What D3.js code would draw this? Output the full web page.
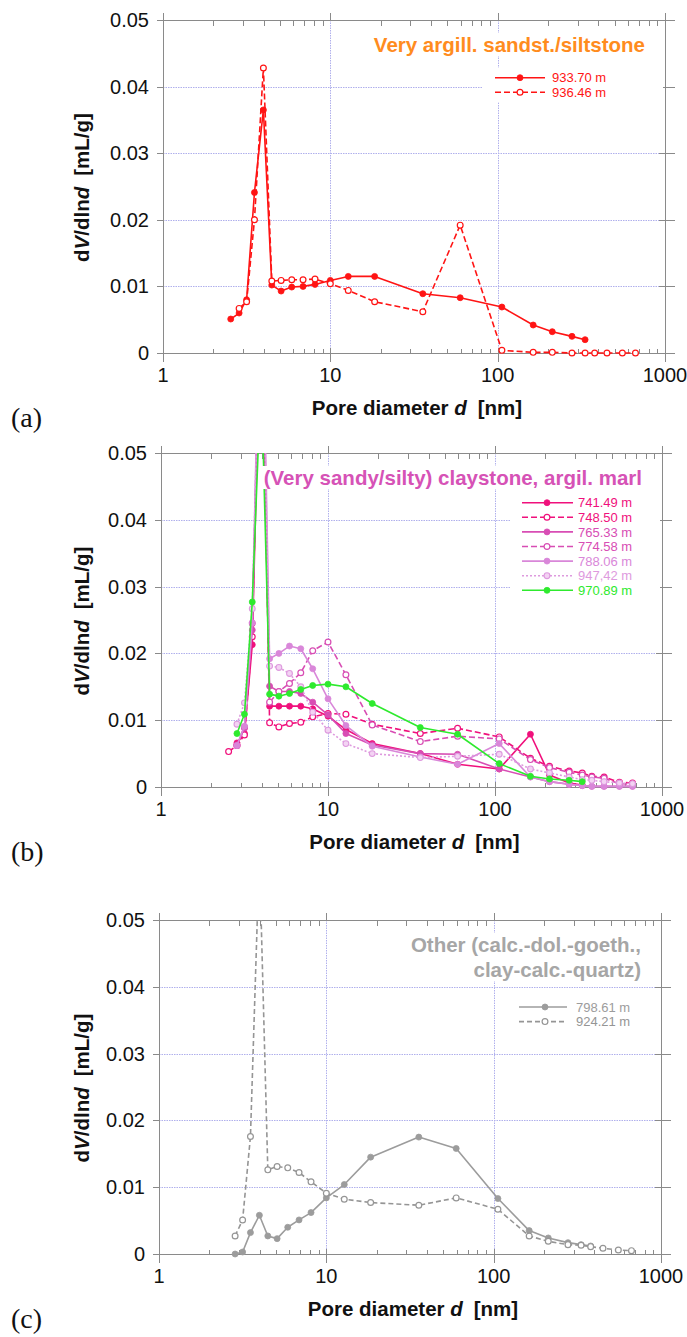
<!DOCTYPE html>
<html><head><meta charset="utf-8">
<script src="https://cdn.jsdelivr.net/npm/d3@7"></script>
<style>body{margin:0;background:#fff}svg{display:block}</style>
</head><body>
<svg id="chart" width="687" height="1337"></svg>
<script>
// ---------------- DATA ----------------
const diameters = [2.54, 2.85, 3.16, 3.52, 3.98, 4.47, 5.08, 5.88, 6.87, 8.1, 10.0, 12.8, 18.4, 35.7, 59.7, 106, 163, 212, 278, 333, 380, 450, 556, 666];
const xTickValues = [1, 10, 100, 1000];
const xTickLabels = ["1", "10", "100", "1000"];
const yTickValues = [0, 0.01, 0.02, 0.03, 0.04, 0.05];
const yTickLabels = ["0", "0.01", "0.02", "0.03", "0.04", "0.05"];

// Panel (a)
const titleA = ["Very argill. sandst./siltstone"];
const namesA = ["933.70 m", "936.46 m"];
const a_93370 = [0.0051, 0.0060, 0.0080, 0.0241, 0.0365, 0.0102, 0.0093, 0.0099, 0.0100, 0.0103, 0.0109, 0.0115, 0.0115, 0.0089, 0.0083, 0.0069, 0.0042, 0.0032, 0.0025, 0.0020, null, null, null, null];
const a_93646 = [null, 0.0067, 0.0077, 0.0200, 0.0428, 0.0108, 0.0109, 0.0110, 0.0110, 0.0111, 0.0104, 0.0094, 0.0077, 0.0062, 0.0192, 0.0004, 0.0001, 0.0001, 0.0000, 0.0000, 0.0000, 0.0000, 0.0000, 0.0000];

// Panel (b)
const titleB = ["(Very sandy/silty) claystone, argil. marl"];
const namesB = ["741.49 m", "748.50 m", "765.33 m", "774.58 m", "788.06 m", "947,42 m", "970.89 m"];
const b_74149 = [null, 0.0066, 0.0080, 0.0213, 0.075, 0.0121, 0.0121, 0.0121, 0.0121, 0.0117, 0.0106, 0.0086, 0.0065, 0.0050, 0.0034, 0.0027, 0.0079, 0.0018, 0.0006, 0.0003, null, null, null, null];
const b_74850 = [0.0053, 0.0062, 0.0078, 0.0225, 0.080, 0.0096, 0.0090, 0.0095, 0.0097, 0.0105, 0.0110, 0.0109, 0.0094, 0.0080, 0.0088, 0.0075, 0.0043, 0.0031, 0.0024, 0.0021, 0.0016, 0.0015, 0.0007, 0.0006];
const b_76533 = [null, 0.0063, 0.0088, 0.0235, 0.078, 0.0151, 0.0143, 0.0143, 0.0140, 0.0127, 0.0108, 0.0080, 0.0063, 0.0050, 0.0049, 0.0027, 0.0015, 0.0008, 0.0004, 0.0002, 0.0001, 0.0001, 0.0001, 0.0001];
const b_77458 = [null, 0.0062, 0.0090, 0.0245, 0.080, 0.0127, 0.0143, 0.0155, 0.0171, 0.0204, 0.0217, 0.0168, 0.0093, 0.0068, 0.0076, 0.0072, 0.0041, 0.0029, 0.0022, 0.0018, 0.0015, 0.0013, 0.0005, 0.0004];
const b_78806 = [null, 0.0062, 0.0091, 0.0246, 0.085, 0.0192, 0.0200, 0.0211, 0.0207, 0.0177, 0.0132, 0.0092, 0.0061, 0.0045, 0.0034, 0.0065, 0.0015, 0.0008, 0.0004, 0.0002, 0.0001, 0.0001, 0.0001, 0.0001];
const b_94742 = [null, 0.0094, 0.0126, 0.0267, 0.080, 0.0181, 0.0179, 0.0170, 0.0150, 0.0112, 0.0085, 0.0065, 0.0050, 0.0044, 0.0046, 0.0049, 0.0027, 0.0021, 0.0015, 0.0011, 0.0010, 0.0008, 0.0006, 0.0005];
const b_97089 = [null, 0.0080, 0.0109, 0.0277, 0.062, 0.0139, 0.0136, 0.0140, 0.0146, 0.0152, 0.0154, 0.0150, 0.0125, 0.0089, 0.0079, 0.0035, 0.0016, 0.0012, 0.0010, 0.0008, null, null, null, null];

// Panel (c)
const titleC = ["Other (calc.-dol.-goeth.,", "clay-calc.-quartz)"];
const namesC = ["798.61 m", "924.21 m"];
const c_79861 = [null, 0.0000, 0.0003, 0.0032, 0.0058, 0.0027, 0.0023, 0.0040, 0.0051, 0.0062, 0.0084, 0.0104, 0.0145, 0.0175, 0.0158, 0.0083, 0.0035, 0.0024, 0.0017, 0.0014, 0.0012, null, null, null];
const c_92421 = [null, 0.0027, 0.0051, 0.0176, 0.060, 0.0126, 0.0131, 0.0129, 0.0122, 0.0108, 0.0091, 0.0082, 0.0077, 0.0073, 0.0084, 0.0067, 0.0027, 0.0019, 0.0014, 0.0013, 0.0011, 0.00085, 0.0006, 0.0005];

// ---------------- STYLES / LAYOUT ----------------
const RED = "#FF1414", DP = "#F0107C", MP = "#D84DB4", LO = "#D987D9", LO2 = "#DE9ADE", GR = "#2EEA2E", G1 = "#9C9C9C", G2 = "#959595";
const LSTEP = 14.6;
const panels = [
  { label: "(a)", x0: 163, x1: 665, yTop: 20, yBot: 353, title: titleA, titleColor: "#FF8C1E",
    legend: { ls: 170, le: 120, m: 145, tx: 113, y0: 57.7 },
    series: [
      { name: namesA[0], values: a_93370, color: RED, dash: null, marker: "filled" },
      { name: namesA[1], values: a_93646, color: RED, dash: "6,3", marker: "open" } ] },
  { label: "(b)", x0: 161, x1: 662, yTop: 453, yBot: 787, title: titleB, titleColor: "#D652B6",
    legend: { ls: 140, le: 89, m: 115, tx: 84, y0: 49.7 },
    series: [
      { name: namesB[0], values: b_74149, color: DP, dash: null, marker: "filled" },
      { name: namesB[1], values: b_74850, color: DP, dash: "6,3", marker: "open" },
      { name: namesB[2], values: b_76533, color: MP, dash: null, marker: "filled" },
      { name: namesB[3], values: b_77458, color: MP, dash: "6,3", marker: "open" },
      { name: namesB[4], values: b_78806, color: LO, dash: null, marker: "filled" },
      { name: namesB[5], values: b_94742, color: LO2, dash: "2,2", marker: "dot" },
      { name: namesB[6], values: b_97089, color: GR, dash: null, marker: "filled" } ] },
  { label: "(c)", x0: 159, x1: 661, yTop: 920, yBot: 1254, title: titleC, titleColor: "#A6A6A6",
    legend: { ls: 142, le: 94, m: 116, tx: 85, y0: 87 },
    series: [
      { name: namesC[0], values: c_79861, color: G1, dash: null, marker: "filled" },
      { name: namesC[1], values: c_92421, color: G2, dash: "5,3", marker: "open" } ] }
];

const svg = d3.select("#chart");
const AX = "#8a8a8a", GRID = "#B0B0EC";
const SANS = "'Liberation Sans', Arial, sans-serif";

function drawMarker(g, type, color, cx, cy) {
  const c = g.append("circle").attr("cx", cx).attr("cy", cy);
  if (type === "filled") c.attr("r", 3).attr("fill", color).attr("stroke", color).attr("stroke-width", 0.8);
  else if (type === "open") c.attr("r", 2.9).attr("fill", "#fff").attr("stroke", color).attr("stroke-width", 1.2);
  else c.attr("r", 2.9).attr("fill", "#F3D3F3").attr("stroke", color).attr("stroke-width", 1.1);
}

panels.forEach((p, pi) => {
  const g = svg.append("g");
  const xs = d3.scaleLog().domain([1, 1000]).range([p.x0, p.x1]);
  const ys = d3.scaleLinear().domain([0, 0.05]).range([p.yBot, p.yTop]);

  // grid
  const grid = g.append("g").attr("stroke", GRID).attr("stroke-width", 1).attr("stroke-dasharray", "1.5,1");
  yTickValues.slice(1, -1).forEach(v => grid.append("line")
    .attr("x1", p.x0).attr("x2", p.x1).attr("y1", Math.round(ys(v)) + 0.5).attr("y2", Math.round(ys(v)) + 0.5));
  xTickValues.slice(1, -1).forEach(v => grid.append("line")
    .attr("y1", p.yTop).attr("y2", p.yBot).attr("x1", Math.round(xs(v)) + 0.5).attr("x2", Math.round(xs(v)) + 0.5));

  // axes frame
  const ax = g.append("g").attr("stroke", AX).attr("stroke-width", 1).attr("shape-rendering", "crispEdges");
  const X0 = Math.round(p.x0) + 0.5, X1 = Math.round(p.x1) + 0.5, YT = Math.round(p.yTop) + 0.5, YB = Math.round(p.yBot) + 0.5;
  ax.append("line").attr("x1", X0).attr("x2", X0).attr("y1", YT - 8).attr("y2", YB);
  ax.append("line").attr("x1", X1).attr("x2", X1).attr("y1", YT - 8).attr("y2", YB);
  ax.append("line").attr("x1", X0).attr("x2", X1 + 9).attr("y1", YB).attr("y2", YB);
  ax.append("line").attr("x1", X0 - 7).attr("x2", X1 + 9).attr("y1", YT).attr("y2", YT);
  // x major ticks
  xTickValues.forEach(v => {
    const x = Math.round(xs(v)) + 0.5;
    ax.append("line").attr("x1", x).attr("x2", x).attr("y1", YT - 8).attr("y2", YT);
    ax.append("line").attr("x1", x).attr("x2", x).attr("y1", YB - 6).attr("y2", YB + 8);
  });
  // x minor ticks
  [1, 10, 100].forEach(dec => d3.range(2, 10).forEach(k => {
    const x = Math.round(xs(dec * k)) + 0.5;
    ax.append("line").attr("x1", x).attr("x2", x).attr("y1", YT).attr("y2", YT + 5);
    ax.append("line").attr("x1", x).attr("x2", x).attr("y1", YB - 5).attr("y2", YB);
  }));
  // y ticks
  yTickValues.forEach(v => {
    const y = Math.round(ys(v)) + 0.5;
    ax.append("line").attr("x1", X0 - 7).attr("x2", X0).attr("y1", y).attr("y2", y);
    ax.append("line").attr("x1", X1 - 7).attr("x2", X1 + 9).attr("y1", y).attr("y2", y);
  });

  // tick labels
  yTickValues.forEach((v, i) => g.append("text").attr("x", p.x0 - 14).attr("y", ys(v) + 7)
    .attr("text-anchor", "end").attr("font-family", SANS).attr("font-size", 20).attr("fill", "#111").text(yTickLabels[i]));
  xTickValues.forEach((v, i) => g.append("text").attr("x", xs(v)).attr("y", p.yBot + 29)
    .attr("text-anchor", "middle").attr("font-family", SANS).attr("font-size", 20).attr("fill", "#111").text(xTickLabels[i]));

  // axis titles
  const xt = g.append("text").attr("x", (p.x0 + p.x1) / 2 + 3).attr("y", p.yBot + 62).attr("text-anchor", "middle")
    .attr("font-family", SANS).attr("font-size", 20.5).attr("font-weight", "bold").attr("fill", "#111");
  xt.append("tspan").text("Pore diameter ");
  xt.append("tspan").attr("font-style", "italic").text("d");
  xt.append("tspan").attr("dx", 11).text("[nm]");
  const yt = g.append("text").attr("transform", `translate(89,${(p.yTop + p.yBot) / 2 + 1}) rotate(-90)`).attr("text-anchor", "middle")
    .attr("font-family", SANS).attr("font-size", 20.5).attr("font-weight", "bold").attr("fill", "#111");
  yt.append("tspan").text("d");
  yt.append("tspan").attr("font-style", "italic").text("V");
  yt.append("tspan").text("/dln");
  yt.append("tspan").attr("font-style", "italic").text("d");
  yt.append("tspan").attr("dx", 11).text("[mL/g]");

  // panel label
  g.append("text").attr("x", 11).attr("y", p.yBot + 74).attr("font-family", "'Liberation Serif', 'Times New Roman', serif")
    .attr("font-size", 28).attr("fill", "#111").text(p.label);

  // series
  const clipId = "clip" + pi;
  svg.append("clipPath").attr("id", clipId).append("rect")
    .attr("x", p.x0 - 10).attr("y", p.yTop).attr("width", p.x1 - p.x0 + 20).attr("height", p.yBot - p.yTop + 12);
  const sg = g.append("g").attr("clip-path", `url(#${clipId})`);
  const line = d3.line().defined(d => d[1] != null).x(d => xs(d[0])).y(d => ys(d[1]));
  p.series.forEach(s => {
    const pts = diameters.map((d, i) => [d, s.values[i]]);
    sg.append("path").attr("d", line(pts)).attr("fill", "none").attr("stroke", s.color)
      .attr("stroke-width", 1.6).attr("stroke-dasharray", s.dash).attr("stroke-linejoin", "round");
    pts.filter(d => d[1] != null).forEach(d => drawMarker(sg, s.marker, s.color, xs(d[0]), ys(d[1])));
  });

  // title with white background
  const tg = g.append("g");
  const tt = tg.append("text").attr("text-anchor", "end").attr("font-family", SANS).attr("font-size", 20.5)
    .attr("font-weight", "bold").attr("fill", p.titleColor);
  p.title.forEach((t, i) => tt.append("tspan").attr("x", p.x1 - 20).attr("y", p.yTop + 32 + i * 25).text(t));
  const bb = tt.node().getBBox();
  tg.insert("rect", "text").attr("x", bb.x - 2).attr("y", bb.y).attr("width", bb.width + 4).attr("height", bb.height).attr("fill", "#fff");

  // legend
  const L = p.legend;
  const lg = g.append("g");
  const n = p.series.length;
  lg.append("rect").attr("x", p.x1 - L.ls - 12).attr("y", p.yTop + L.y0 - 10)
    .attr("width", L.ls + 14 - 4).attr("height", (n - 1) * LSTEP + 20).attr("fill", "#fff");
  p.series.forEach((s, i) => {
    const y = p.yTop + L.y0 + i * LSTEP;
    lg.append("line").attr("x1", p.x1 - L.ls).attr("x2", p.x1 - L.le).attr("y1", y).attr("y2", y)
      .attr("stroke", s.color).attr("stroke-width", 1.6).attr("stroke-dasharray", s.dash);
    drawMarker(lg, s.marker, s.color, p.x1 - L.m, y);
    lg.append("text").attr("x", p.x1 - L.tx).attr("y", y + 4.6).attr("font-family", SANS).attr("font-size", 13)
      .attr("fill", s.color).text(s.name);
  });
});
</script>
</body></html>
